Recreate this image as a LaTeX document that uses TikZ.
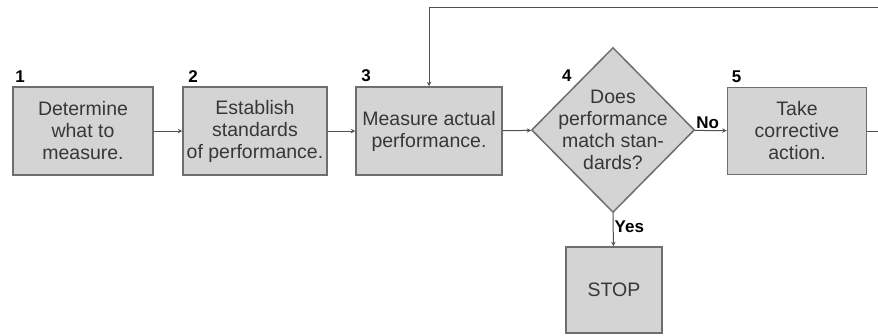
\documentclass[tikz,border=0pt]{standalone}
\usepackage{fontspec}
\setsansfont{Liberation Sans}
\usepackage{tikz}
\usetikzlibrary{arrows,shapes,positioning}
\usepackage{xcolor}
\definecolor{ctgray}{RGB}{110,110,110}
\definecolor{ctfill}{RGB}{212,212,212}
\definecolor{cttext}{RGB}{55,55,55}
\definecolor{ctline}{RGB}{80,80,80}
\tikzstyle{arrow} = [line width=1pt,->,>=stealth,color=ctline]
\tikzstyle{stepbox} = [rectangle, minimum width=140pt, minimum height=88pt, inner sep=2pt, align=center, draw=ctgray, fill=ctfill, line width=1.5pt, text=cttext, font=\sffamily\fontsize{19.5}{22}\selectfont]
\tikzstyle{decision} = [diamond, minimum width=163pt, minimum height=165pt, inner sep=0pt, draw=ctgray, fill=ctfill, line width=1.5pt]
\tikzstyle{numlbl} = [inner sep=1pt, text=black, font=\sffamily\bfseries\fontsize{17}{17}\selectfont]

\begin{document}
\begin{tikzpicture}[x=1pt,y=-1pt]
\useasboundingbox (0,0) rectangle (878,335);
\clip (0,0) rectangle (878,335);

% Steps
\node[stepbox] (b1) at (83,131) {Determine\\what to\\measure.};
\node[stepbox, minimum width=144pt] (b2) at (255,131) {Establish\\standards\\of performance.};
\node[stepbox, minimum width=146pt] (b3) at (429,131) {Measure actual\\performance.};
\node[decision, label={[align=center, text=cttext, font=\sffamily\fontsize{19.5}{22}\selectfont]center:Does\\performance\\match stan-\\dards?}] (d4) at (613,130) {};
\node[stepbox, minimum width=139pt, minimum height=87pt] (b5) at (797,131) {Take\\corrective\\action.};
\node[stepbox, minimum width=96pt, minimum height=86pt] (stop) at (614,290) {STOP};

% Numbers
\node[numlbl, above=3pt of b1.north west, anchor=south west, xshift=2pt] {1};
\node[numlbl, above=3pt of b2.north west, anchor=south west, xshift=5pt] {2};
\node[numlbl, above=3pt of b3.north west, anchor=south west, xshift=5pt] {3};
\node[numlbl, anchor=south west] at (561,83) {4};
\node[numlbl, above=3pt of b5.north west, anchor=south west, xshift=4pt] {5};

% Arrows
\draw[arrow] (b1) -- (b2);
\draw[arrow] (b2) -- (b3);
\draw[arrow] (b3) -- (d4);
\draw[arrow] (d4) -- node[numlbl, above, pos=0.4] {No} (b5);
\draw[arrow] (d4.south) -- node[numlbl, right, pos=0.4] {Yes} (stop);

% Feedback loop
\coordinate (back) at (890,7);
\draw[arrow] (b5.east) -| (back) -| (b3.north);
\end{tikzpicture}
\end{document}
